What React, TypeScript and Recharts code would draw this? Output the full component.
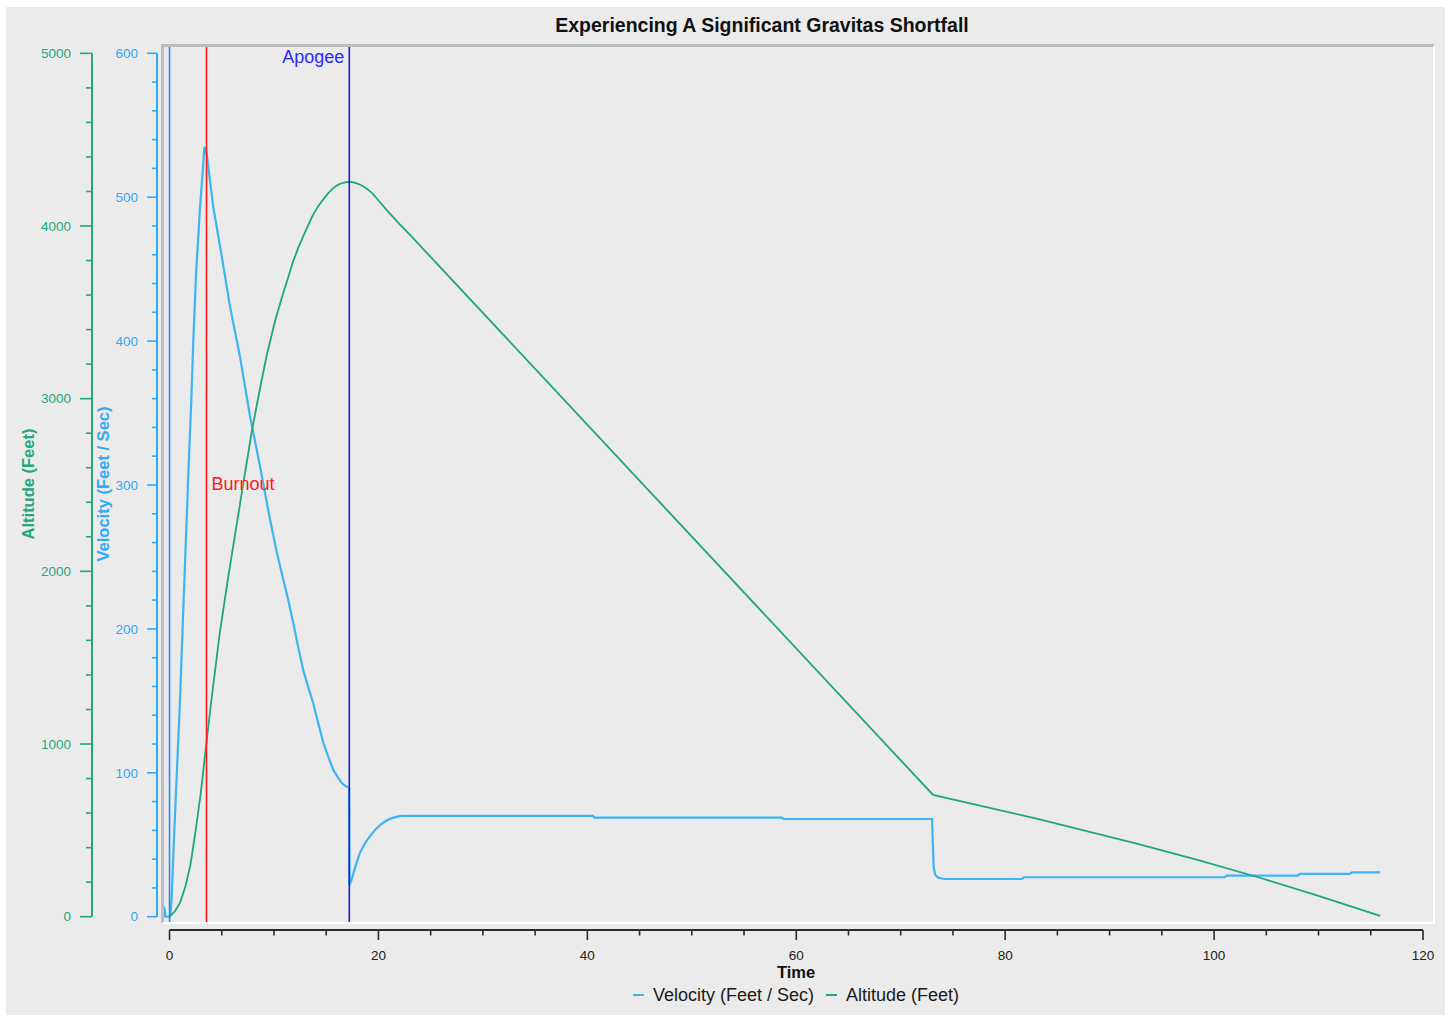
import React from "react";
import { LineChart, Line, XAxis, YAxis, ReferenceLine, Legend } from "recharts";

const FONT = '"Liberation Sans", Arial, Helvetica, sans-serif';
const VEL_COLOR = "#3fb4f3";
const VEL_AXIS = "#30a9f6";
const ALT_COLOR = "#1fa67a";
const ALT_AXIS = "#24a77b";

const VEL_NAME = "Velocity (Feet / Sec)";
const ALT_NAME = "Altitude (Feet)";

// time (s) / velocity (ft/s)
const VEL_T = [
  -0.55, -0.5, -0.47, -0.44, -0.4, 0, 0.1, 0.2, 0.4, 0.7, 1.0, 1.3, 1.64, 1.8, 2.06, 2.28, 2.54, 2.92, 3.2, 3.33,
  3.45, 3.56, 4.19, 5.0, 5.79, 6.75, 7.7, 8.66, 9.62, 10.25, 10.9, 11.4, 11.85, 12.3, 12.81, 13.3, 13.77, 14.25,
  14.72, 15.2, 15.68, 16.1, 16.48, 16.8, 17.1, 17.2, 17.23, 17.4, 17.8, 18.2, 18.7, 19.2, 19.7, 20.2, 20.6, 21.1,
  21.6, 22.2, 22.8, 40.5, 40.7, 58.6, 58.8, 73.0, 73.15, 73.3, 73.6, 74.2, 81.6, 81.8, 101.0, 101.2, 108.0, 108.2,
  113.0, 113.2, 115.9,
];
const VEL = [
  0, 7, 0, 5, 0, 0, 2, 12, 50, 100, 150, 210, 276, 308, 354, 401, 447, 493, 520, 535,
  533, 530, 493, 459, 424, 389, 348, 313, 276, 254, 234, 219, 204, 188, 171, 159, 148, 134,
  121, 111, 102, 97, 93, 91, 90, 89, 22, 25, 35, 44, 51, 56, 60.5, 64, 66, 68,
  69.2, 70, 70, 70, 68.8, 68.8, 67.9, 67.9, 35, 29, 27, 26.2, 26.2, 27.4, 27.4, 28.5, 28.5, 29.7,
  29.7, 30.8, 30.8,
];

// time (s) / altitude (ft)
const ALT_T = [
  0, 0.5, 1.0, 1.5, 2.0, 2.5, 3.0, 3.5, 4.0, 4.8, 5.6, 6.4, 7.2, 7.9, 8.6, 9.3, 10.1, 10.9, 11.4, 11.8, 12.3,
  12.8, 13.2, 13.7, 14.2, 14.7, 15.2, 15.6, 16.0, 16.4, 16.8, 17.2, 17.6, 18.0, 18.5, 18.9, 19.4, 19.8, 20.4,
  21.0, 21.5, 22.0, 23.0, 73.1, 83.0, 92.5, 98.5, 104.3, 110.0, 115.9,
];
const ALT = [
  0, 30, 80, 170, 300, 500, 720, 990, 1250, 1640, 1960, 2260, 2560, 2820, 3040, 3250, 3450, 3615, 3710, 3790, 3870,
  3940, 3995, 4060, 4112, 4153, 4190, 4215, 4234, 4246, 4253, 4256, 4253, 4245, 4232, 4215, 4190, 4162, 4120,
  4077, 4045, 4012, 3950, 705, 568, 425, 328, 227, 121, 5,
];

const LAUNCH_T = 0;
const BURNOUT_T = 3.54;
const APOGEE_T = 17.21;

const X_TICKS = Array.from({ length: 25 }, (_, i) => i * 5);
const VEL_TICKS = Array.from({ length: 31 }, (_, i) => i * 20);
const ALT_TICKS = Array.from({ length: 26 }, (_, i) => i * 200);

const velData = VEL_T.map((t, i) => ({ t, v: VEL[i] }));
const altData = ALT_T.map((t, i) => ({ t, a: ALT[i] }));

const W = 1439;
const H = 1008;
const PLOT_W = 1278;
const PLOT_H = 878;
const X_MIN = -1.2;
const X_MAX = 121.15;
const V_MIN = -4.38;
const V_MAX = 605.77;
const A_MIN = -36.5;
const A_MAX = 5048.1;

// axis ids: "y1" sits next to the plot, "y2" outside it
const VEL_AXIS_ID = "y1";
const ALT_AXIS_ID = "y2";

const X_STEP_PX = (5 * PLOT_W) / (X_MAX - X_MIN);
const velPx = PLOT_H / (V_MAX - V_MIN);
const altPx = PLOT_H / (A_MAX - A_MIN);
const velDash = `0 ${(V_MAX - 600) * velPx} ${600 * velPx} ${PLOT_H}`;
const altDash = `0 ${(A_MAX - 5000) * altPx} ${5000 * altPx} ${PLOT_H}`;

function TimeTick({ x, y, payload }: any) {
  const v = payload.value;
  const major = v % 20 === 0;
  const y0 = y + 7;
  return (
    <g>
      {v < 120 && <line x1={x} y1={y0} x2={x + X_STEP_PX} y2={y0} stroke="#2a2a2a" strokeWidth={2} />}
      <line x1={x} y1={y0} x2={x} y2={y0 + (major ? 10 : 5.5)} stroke="#2a2a2a" strokeWidth={1.6} />
      {major && (
        <text x={x} y={y0 + 30} textAnchor="middle" fontSize={13.5} fill="#222" fontFamily={FONT}>
          {v}
        </text>
      )}
    </g>
  );
}

const yTick = (color: string, majorStep: number, majorLen: number, gap: number) =>
  function YTick({ x, y, payload }: any) {
    const v = payload.value;
    const major = v % majorStep === 0;
    return (
      <g>
        <line x1={x - (major ? majorLen : majorLen / 2)} y1={y} x2={x} y2={y} stroke={color} strokeWidth={1.6} />
        {major && (
          <text x={x - gap} y={y} dy="0.35em" textAnchor="end" fontSize={13.5} fill={color} fontFamily={FONT}>
            {v}
          </text>
        )}
      </g>
    );
  };

const axisTitle = (text: string, color: string, dx: number) =>
  function AxisTitle({ viewBox }: any) {
    const x = viewBox.x + dx;
    const y = viewBox.y + viewBox.height / 2;
    return (
      <text
        x={x}
        y={y}
        transform={`rotate(-90 ${x} ${y})`}
        textAnchor="middle"
        dominantBaseline="central"
        fill={color}
        fontWeight="bold"
        fontSize={16.5}
        fontFamily={FONT}
      >
        {text}
      </text>
    );
  };

const LEGEND_ORDER = [VEL_NAME, ALT_NAME];

function LegendRow({ payload }: any) {
  const items = [...(payload || [])].sort(
    (a: any, b: any) => LEGEND_ORDER.indexOf(a.value) - LEGEND_ORDER.indexOf(b.value)
  );
  return (
    <div
      style={{
        display: "flex",
        justifyContent: "center",
        alignItems: "center",
        fontSize: 18,
        lineHeight: "22px",
        color: "#1a1a1a",
        fontFamily: FONT,
      }}
    >
      {items.map((p: any, i: number) => (
        <span key={p.value} style={{ display: "inline-flex", alignItems: "center", marginLeft: i ? 12 : 0 }}>
          <span style={{ width: 11, height: 1.5, background: p.color, marginRight: 9, display: "inline-block" }} />
          {p.value}
        </span>
      ))}
    </div>
  );
}

export default function App() {
  return (
    <div
      style={{
        position: "absolute",
        left: 6,
        top: 7,
        width: W,
        height: H,
        background: "#ebebeb",
        fontFamily: FONT,
      }}
    >
      <div
        style={{
          position: "absolute",
          left: 456,
          width: 600,
          top: 8,
          textAlign: "center",
          fontSize: 19.5,
          lineHeight: "20px",
          fontWeight: "bold",
          color: "#111",
        }}
      >
        Experiencing A Significant Gravitas Shortfall
      </div>
      <LineChart width={W} height={H} margin={{ top: 38, right: 10, bottom: 0, left: 0 }}>
        <XAxis
          xAxisId="t"
          dataKey="t"
          type="number"
          domain={[X_MIN, X_MAX]}
          allowDataOverflow
          ticks={X_TICKS}
          interval={0}
          height={92}
          axisLine={false}
          tickLine={false}
          tickSize={0}
          tickMargin={0}
          tick={<TimeTick />}
          label={{ value: "Time", position: "insideTop", offset: 43, fontWeight: "bold", fontSize: 16.5, fill: "#111" }}
        />
        <YAxis
          yAxisId={VEL_AXIS_ID}
          orientation="left"
          width={65}
          domain={[V_MIN, V_MAX]}
          allowDataOverflow
          ticks={VEL_TICKS}
          interval={0}
          tickSize={0}
          tickMargin={0}
          tickLine={false}
          axisLine={{ stroke: VEL_AXIS, strokeWidth: 2, strokeDasharray: velDash }}
          tick={yTick(VEL_AXIS, 100, 10, 19)}
          label={axisTitle(VEL_NAME, VEL_AXIS, 11)}
        />
        <YAxis
          yAxisId={ALT_AXIS_ID}
          orientation="left"
          width={86}
          domain={[A_MIN, A_MAX]}
          allowDataOverflow
          ticks={ALT_TICKS}
          interval={0}
          tickSize={0}
          tickMargin={0}
          tickLine={false}
          axisLine={{ stroke: ALT_AXIS, strokeWidth: 2, strokeDasharray: altDash }}
          tick={yTick(ALT_AXIS, 1000, 12, 21)}
          label={axisTitle(ALT_NAME, ALT_AXIS, 22)}
        />
        <Legend
          verticalAlign="middle"
          align="center"
          layout="horizontal"
          content={<LegendRow />}
          wrapperStyle={{ left: 151, width: PLOT_W, top: 977, height: 22 }}
        />
        <Line
          xAxisId="t"
          yAxisId={VEL_AXIS_ID}
          data={velData}
          dataKey="v"
          name={VEL_NAME}
          type="linear"
          stroke={VEL_COLOR}
          strokeWidth={2.2}
          dot={false}
          activeDot={false}
          isAnimationActive={false}
        />
        <Line
          xAxisId="t"
          yAxisId={ALT_AXIS_ID}
          data={altData}
          dataKey="a"
          name={ALT_NAME}
          type="linear"
          stroke={ALT_COLOR}
          strokeWidth={1.8}
          dot={false}
          activeDot={false}
          isAnimationActive={false}
        />
        <ReferenceLine xAxisId="t" yAxisId={VEL_AXIS_ID} x={LAUNCH_T} stroke="#1e8cff" strokeWidth={1.6} />
        <ReferenceLine
          xAxisId="t"
          yAxisId={VEL_AXIS_ID}
          x={BURNOUT_T}
          stroke="#ff1a1a"
          strokeWidth={1.6}
          label={{ value: "Burnout", position: "right", offset: 5, fill: "#ff1a1a", fontSize: 18 }}
        />
        <ReferenceLine
          xAxisId="t"
          yAxisId={VEL_AXIS_ID}
          x={APOGEE_T}
          stroke="#1c1cc8"
          strokeWidth={1.6}
          label={{ value: "Apogee", position: "insideTopRight", offset: 5, fill: "#2a2aff", fontSize: 18 }}
        />
      </LineChart>
      <div
        style={{
          position: "absolute",
          left: 155,
          top: 37,
          width: 1274,
          height: 880,
          boxSizing: "border-box",
          borderTop: "3px solid #bdbdbd",
          borderLeft: "3px solid #bdbdbd",
          borderRight: "2px solid #ffffff",
          borderBottom: "2px solid #ffffff",
          pointerEvents: "none",
        }}
      />
    </div>
  );
}
